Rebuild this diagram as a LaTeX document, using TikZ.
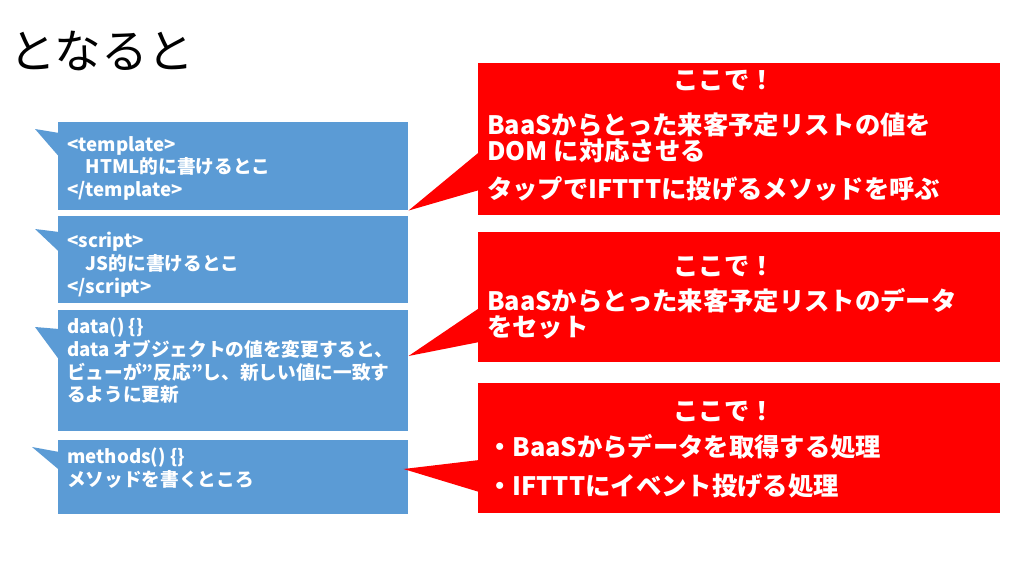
\documentclass[tikz,border=0pt]{standalone}
\usepackage{fontspec}
\setmainfont{Noto Sans CJK JP}
\usetikzlibrary{positioning}
\definecolor{calloutblue}{HTML}{5B9BD5}
\definecolor{calloutred}{HTML}{FF0000}
\tikzset{
  bluebox/.style={fill=calloutblue, inner sep=0, minimum width=262.5pt, anchor=north west},
  redbox/.style={fill=calloutred, inner sep=0, minimum width=391.5pt, anchor=north west},
  bluetext/.style={text=white, font=\bfseries\fontsize{14}{17}\selectfont, align=left, inner sep=0, anchor=north west},
  redtext/.style={text=white, font=\bfseries\fontsize{19}{19.5}\selectfont, align=left, inner sep=0, anchor=north west},
  redtitle/.style={text=white, font=\bfseries\fontsize{19}{19.5}\selectfont, inner sep=0, anchor=base},
}

\begin{document}
\begin{tikzpicture}[x=0.75pt, y=-0.75pt]
    \useasboundingbox (0,0) rectangle (1024,576);

    % Title
    \node[anchor=base west, inner sep=0, font=\fontsize{35}{35}\selectfont] (title) at (9,68) {となると};

    % Blue callouts (Vue component parts)
    \node[bluebox, minimum height=66pt] (tmpl) at (58,122) {};
    \node[bluebox, minimum height=65.25pt] (scrpt) at (58,216) {};
    \node[bluebox, minimum height=90.75pt] (dat) at (58,310) {};
    \node[bluebox, minimum height=55.5pt] (meth) at (58,440) {};

    \coordinate[below left=5.25pt and 17.25pt of tmpl.north west] (tmpl tip);
    \coordinate[below left=9.75pt and 17.25pt of scrpt.north west] (scrpt tip);
    \coordinate[below left=12.75pt and 17.25pt of dat.north west] (dat tip);
    \coordinate[below left=5.25pt and 19.5pt of meth.north west] (meth tip);
    \fill[calloutblue] (tmpl tip) -- ([xshift=1pt, yshift=-8.25pt]tmpl.north west) -- ([xshift=1pt, yshift=-26.25pt]tmpl.north west) -- cycle;
    \fill[calloutblue] (scrpt tip) -- ([xshift=1pt, yshift=-12pt]scrpt.north west) -- ([xshift=1pt, yshift=-27pt]scrpt.north west) -- cycle;
    \fill[calloutblue] (dat tip) -- ([xshift=1pt, yshift=-14.25pt]dat.north west) -- ([xshift=1pt, yshift=-37.5pt]dat.north west) -- cycle;
    \fill[calloutblue] (meth tip) -- ([xshift=1pt, yshift=-9pt]meth.north west) -- ([xshift=1pt, yshift=-22.5pt]meth.north west) -- cycle;

    \node[bluetext] (tmpl text) at (67,136) {<template>\\\hspace*{14pt}HTML的に書けるとこ\\</template>};
    \node[bluetext] (scrpt text) at (67,232) {<script>\\\hspace*{14pt}JS的に書けるとこ\\</script>};
    \node[bluetext] (dat text) at (67,318) {data() \{\}\\data オブジェクトの値を変更すると、\\ビューが”反応”し、新しい値に一致す\\るように更新};
    \node[bluetext] (meth text) at (67,448) {methods() \{\}\\メソッドを書くところ};

    % Red callouts
    \node[redbox, minimum height=114pt] (here1) at (478,63) {};
    \node[redbox, minimum height=97.5pt] (here2) at (478,232) {};
    \node[redbox, minimum height=97.5pt] (here3) at (478,383) {};

    \coordinate (tip1) at (tmpl.south east);
    \coordinate[below=34.5pt of dat.north east] (tip2);
    \coordinate[below left=21.75pt and 3.75pt of meth.north east] (tip3);
    \fill[calloutred] (tip1) -- ([xshift=1pt, yshift=-66.75pt]here1.north west) -- ([xshift=1pt, yshift=-95.25pt]here1.north west) -- cycle;
    \fill[calloutred] (tip2) -- ([xshift=1pt, yshift=-57pt]here2.north west) -- ([xshift=1pt, yshift=-82.5pt]here2.north west) -- cycle;
    \fill[calloutred] (tip3) -- ([xshift=1pt, yshift=-57.75pt]here3.north west) -- ([xshift=1pt, yshift=-81.75pt]here3.north west) -- cycle;

    \node[redtitle] (here1 title) at (724,89) {ここで！};
    \node[redtitle] (here2 title) at (724,275) {ここで！};
    \node[redtitle] (here3 title) at (724,420) {ここで！};

    \node[redtext] (here1 text) at (487,113) {BaaSからとった来客予定リストの値を\\DOM に対応させる\\[9pt]タップでIFTTTに投げるメソッドを呼ぶ};
    \node[redtext] (here2 text) at (487,288) {BaaSからとった来客予定リストのデータ\\をセット};
    \node[redtext] (here3 text) at (487,434) {・BaaSからデータを取得する処理\\[9.75pt]・IFTTTにイベント投げる処理};
\end{tikzpicture}
\end{document}
